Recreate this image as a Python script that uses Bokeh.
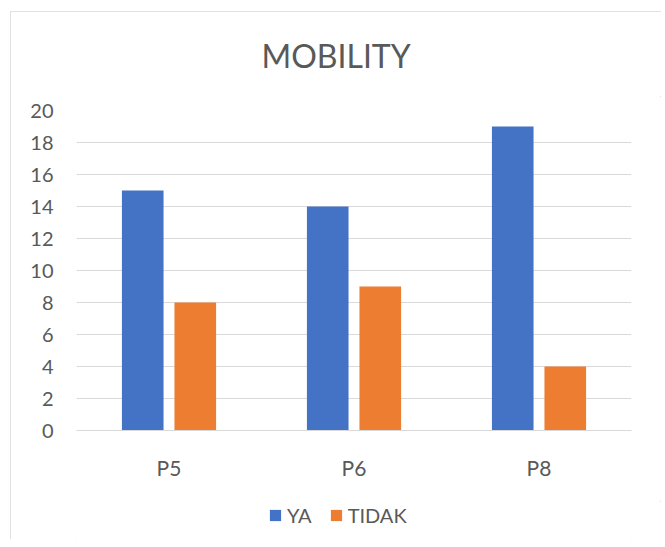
from bokeh.plotting import figure
from bokeh.models import FactorRange, Range1d, ColumnDataSource, Legend, LegendItem, FixedTicker
from bokeh.layouts import column
from bokeh.transform import dodge
from bokeh.embed import file_html
from bokeh.resources import INLINE

categories = ["P5", "P6", "P8"]
ya_values = [15, 14, 19]
tidak_values = [8, 9, 4]
y_ticks = [0, 2, 4, 6, 8, 10, 12, 14, 16, 18, 20]
series_names = ["YA", "TIDAK"]
series_cols = ["ya", "tidak"]
series_colors = ["#4472C4", "#ED7D31"]
series_offsets = [-0.142, 0.142]

FONT = "Lato"
TXT = "#595959"
W = 651

source = ColumnDataSource(data=dict(cat=categories, ya=ya_values, tidak=tidak_values))

# title strip
tf = figure(width=W, height=85, output_backend="svg", toolbar_location=None,
            x_axis_type=None, y_axis_type=None, min_border=0,
            x_range=Range1d(0, 1), y_range=Range1d(0, 1), sizing_mode="fixed",
            title="MOBILITY")
tf.outline_line_color = None
tf.grid.visible = False
tf.title.align = "left"
tf.title.offset = 185
tf.title.text_font = FONT
tf.title.text_font_size = "32px"
tf.title.text_font_style = "normal"
tf.title.text_color = TXT
tf.title.standoff = 44

# main chart
p = figure(
    x_range=FactorRange(factors=categories, range_padding=0),
    y_range=Range1d(0, 20),
    width=W, height=405,
    output_backend="svg", toolbar_location=None,
    min_border_left=66, min_border_right=30, min_border_top=14, min_border_bottom=71,
    sizing_mode="fixed",
)
p.outline_line_color = None

for col, colr, off in zip(series_cols, series_colors, series_offsets):
    p.vbar(x=dodge("cat", off, range=p.x_range), top=col, width=0.225,
           source=source, fill_color=colr, line_color=None)

p.yaxis.ticker = FixedTicker(ticks=y_ticks)
p.yaxis.axis_line_color = None
p.yaxis.major_tick_line_color = None
p.yaxis.minor_tick_line_color = None
p.yaxis.major_label_text_font = FONT
p.yaxis.major_label_text_font_size = "20px"
p.yaxis.major_label_text_color = TXT
p.yaxis.major_label_standoff = 17

p.xaxis.axis_line_color = "#d9d9d9"
p.xaxis.axis_line_width = 1
p.xaxis.major_tick_line_color = None
p.xaxis.minor_tick_line_color = None
p.xaxis.major_label_text_font = FONT
p.xaxis.major_label_text_font_size = "21px"
p.xaxis.major_label_text_color = TXT
p.xaxis.major_label_standoff = 18

p.xgrid.grid_line_color = None
p.ygrid.grid_line_color = "#d9d9d9"
p.ygrid.grid_line_width = 1

# legend strip (its bars have zero width and lie outside its view; only the legend shows)
lg = figure(width=W, height=38, output_backend="svg", toolbar_location=None,
            x_axis_type=None, y_axis_type=None, min_border=0,
            x_range=FactorRange(factors=categories, range_padding=0),
            y_range=Range1d(1000, 1001), sizing_mode="fixed")
lg.outline_line_color = None
lg.grid.visible = False
items = []
for name, col, colr, off in zip(series_names, series_cols, series_colors, series_offsets):
    r = lg.vbar(x=dodge("cat", off, range=lg.x_range), top=col, width=0,
                source=source, fill_color=colr, line_color=None)
    items.append(LegendItem(label=name, renderers=[r]))

legend = Legend(items=items, orientation="horizontal", location=(192, 12))
legend.label_text_font = FONT
legend.label_text_font_size = "20px"
legend.label_text_color = TXT
legend.glyph_width = 14
legend.glyph_height = 14
legend.label_standoff = 5
legend.spacing = 17
legend.border_line_color = None
legend.background_fill_alpha = 0
legend.margin = 0
legend.padding = 6
lg.add_layout(legend, "center")

layout = column(tf, p, lg, spacing=0)
layout.styles = {"outline": "1px solid #d9d9d9", "outline-offset": "-1px",
                 "margin-left": "10px", "margin-top": "11px"}

open("out.html", "w").write(file_html(layout, INLINE))
